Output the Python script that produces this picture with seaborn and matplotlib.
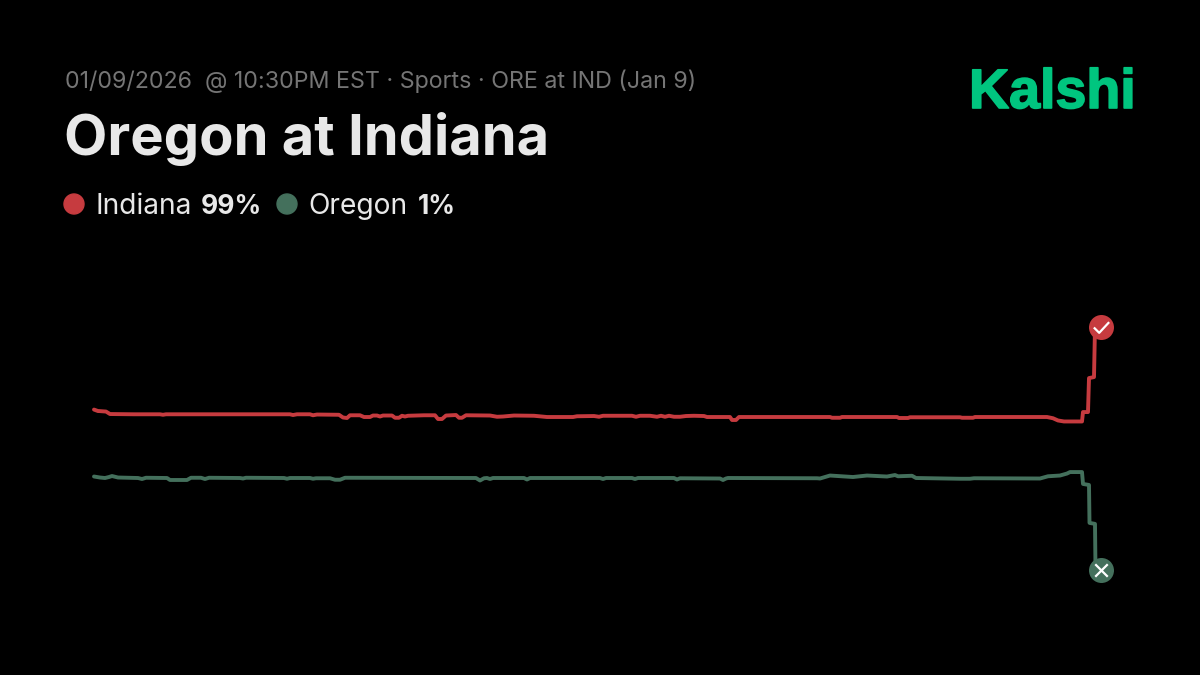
"""Oregon at Indiana market chart, Kalshi share card style."""

import matplotlib
matplotlib.use("Agg")
import matplotlib.pyplot as plt
import matplotlib.patheffects as pe
from matplotlib.patches import Circle
from matplotlib.path import Path
import seaborn as sns

# elapsed time on an arbitrary 0-1007 scale, chance in percent
indiana_t = [0, 4, 5, 12, 16, 40, 66, 69, 72, 120, 150, 196, 199, 203, 216, 219, 223, 245, 249, 253, 256, 266,
             270, 276, 279, 283, 286, 289, 298, 301, 305, 308, 311, 314, 330, 341, 344, 348, 352, 362, 365,
             368, 372, 396, 403, 409, 420, 440, 453, 479, 483, 500, 505, 509, 520, 538, 542, 546, 556, 563,
             567, 571, 575, 580, 586, 592, 600, 610, 613, 636, 638, 642, 645, 736, 738, 746, 748, 803, 805,
             814, 816, 866, 868, 879, 881, 950, 953, 959, 964, 970, 984, 988, 989, 994, 995, 1000, 1001]
indiana_pct = [65.7, 65.1, 65.1, 64.9, 63.9, 63.8, 63.8, 63.6, 63.8, 63.8, 63.8, 63.8, 63.5, 63.8, 63.8, 63.4,
               63.7, 63.6, 62.5, 62.3, 63.4, 63.4, 62.7, 62.7, 63.3, 63.3, 62.9, 63.3, 63.3, 62.4, 62.4, 63.2,
               62.9, 63.2, 63.4, 63.4, 61.9, 61.9, 63.3, 63.5, 62.4, 62.4, 63.4, 63.3, 62.8, 62.9, 63.3, 63.2,
               62.7, 62.7, 63.0, 63.1, 62.8, 63.2, 63.2, 63.2, 62.8, 63.2, 63.2, 62.8, 63.2, 62.8, 63.2, 62.8,
               62.8, 63.1, 63.2, 63.1, 62.7, 62.7, 61.5, 61.5, 62.7, 62.7, 62.4, 62.4, 62.7, 62.7, 62.3, 62.3,
               62.6, 62.6, 62.4, 62.4, 62.7, 62.7, 62.7, 62.2, 61.3, 60.9, 60.9, 60.9, 64.7, 64.7, 78.4, 78.8,
               99.0]
oregon_t = [0, 6, 11, 15, 18, 24, 44, 48, 52, 73, 76, 93, 97, 107, 111, 115, 146, 149, 152, 190, 193, 196, 216,
            219, 222, 236, 241, 246, 251, 382, 386, 390, 393, 396, 399, 430, 433, 436, 506, 509, 512, 538, 541,
            544, 580, 583, 586, 626, 629, 632, 634, 723, 726, 736, 759, 773, 793, 801, 804, 818, 822, 866, 876,
            880, 946, 954, 966, 973, 976, 988, 989, 995, 995.5, 1001, 1001.5]
oregon_pct = [38.7, 38.3, 38.1, 38.5, 38.9, 38.3, 38.1, 37.7, 38.2, 38.1, 37.3, 37.3, 38.2, 38.2, 37.7, 38.2,
              38.1, 37.9, 38.2, 38.1, 37.8, 38.1, 38.1, 37.8, 38.0, 38.0, 37.4, 37.4, 38.2, 38.1, 37.1, 38.0,
              38.1, 37.7, 38.1, 38.1, 37.5, 38.1, 38.1, 37.7, 38.1, 38.1, 37.7, 38.1, 38.1, 37.5, 38.0, 37.9,
              37.3, 37.9, 38.1, 38.0, 37.9, 39.1, 38.5, 39.1, 38.7, 39.3, 38.8, 39.0, 38.1, 37.8, 37.8, 38.0,
              37.9, 38.8, 39.1, 39.9, 40.5, 40.5, 35.7, 35.3, 20.0, 19.6, 1.0]

badge_t = 1007
subtitle = "01/09/2026  @ 10:30PM EST · Sports · ORE at IND (Jan 9)"
title = "Oregon at Indiana"
indiana_color = "#C63B3F"
oregon_color = "#44705C"
logo_color = "#00C57F"

W, H = 1200, 675

sns.set_theme(style="dark", rc={"figure.facecolor": "black", "axes.facecolor": "black"})
plt.rcParams["font.family"] = ["Inter", "DejaVu Sans"]

fig = plt.figure(figsize=(12, 6.75), dpi=100)

# data axes span exactly from the first point to the settled outcome
ax = fig.add_axes([94 / W, 1 - 570 / H, 1007 / W, 243 / H])
ax.set_axis_off()
ax.set_xlim(0, badge_t)
ax.set_ylim(1, 99)

sns.lineplot(x=indiana_t, y=indiana_pct, color=indiana_color, linewidth=2.8, estimator=None, sort=False,
             ax=ax, clip_on=False)
sns.lineplot(x=oregon_t, y=oregon_pct, color=oregon_color, linewidth=2.8, estimator=None, sort=False,
             ax=ax, clip_on=False)

# outcome badges
check = Path([(-1.0, 0.0), (-0.3, -0.7), (1.0, 0.7)], [Path.MOVETO, Path.LINETO, Path.LINETO])
cross = Path([(-1, -1), (1, 1), (-1, 1), (1, -1)], [Path.MOVETO, Path.LINETO, Path.MOVETO, Path.LINETO])
for pct, color, glyph, size in [
    (indiana_pct[-1], indiana_color, check, 11),
    (oregon_pct[-1], oregon_color, cross, 9),
]:
    ax.plot([badge_t], [pct], "o", ms=18, mfc=color, mew=0, clip_on=False, zorder=5)
    ax.plot([badge_t], [pct], marker=glyph, ms=size, mfc="none", mec="white", mew=1.6, clip_on=False, zorder=6)

# header is laid out in pixels on an overlay
overlay = fig.add_axes([0, 0, 1, 1], zorder=10)
overlay.set_axis_off()
overlay.patch.set_alpha(0)
overlay.set_xlim(0, W)
overlay.set_ylim(H, 0)

overlay.text(65, 79, subtitle, color="#757575", fontsize=16.75, va="center_baseline")
overlay.text(64, 134, title, color="#E8E8E8", fontsize=40.4, fontweight="bold", va="center_baseline")
logo = overlay.text(969, 88, "Kalshi", color=logo_color, fontsize=40, fontweight="bold", family="Liberation Sans",
                    va="center_baseline")
# the wordmark is heavier than any installed bold
logo.set_path_effects([pe.withStroke(linewidth=1.2, foreground=logo_color)])

overlay.add_patch(Circle((74, 204), 10, color=indiana_color))
overlay.add_patch(Circle((287, 204), 10, color=oregon_color))
overlay.text(95.5, 204, "Indiana", color="#E8E8E8", fontsize=20.3, va="center_baseline")
overlay.text(201, 204, "99%", color="#E8E8E8", fontsize=19, fontweight="bold", va="center_baseline")
overlay.text(308.5, 204, "Oregon", color="#E8E8E8", fontsize=20.3, va="center_baseline")
overlay.text(418, 204, "1%", color="#E8E8E8", fontsize=19, fontweight="bold", va="center_baseline")

fig.savefig("out.png", dpi=100, facecolor="black")
plt.close(fig)
